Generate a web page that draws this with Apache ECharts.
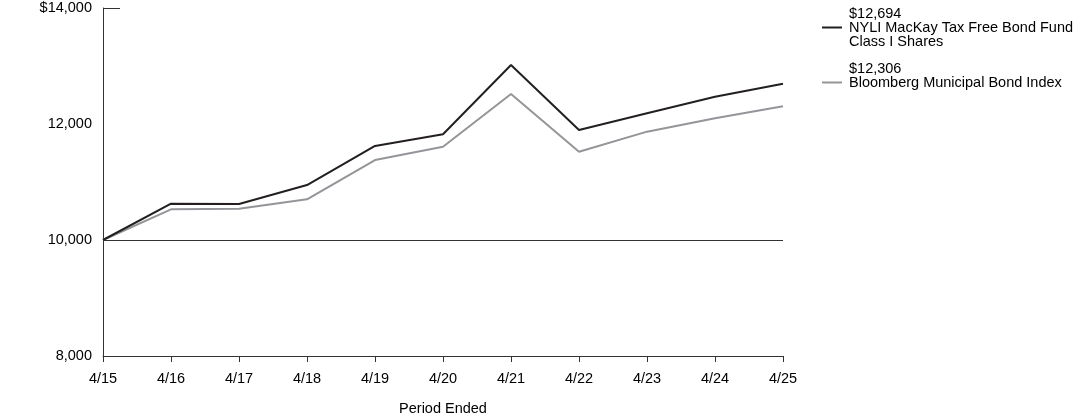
<!DOCTYPE html>
<html>
<head>
<meta charset="utf-8">
<script src="https://cdn.jsdelivr.net/npm/echarts@6/dist/echarts.min.js"></script>
<style>
html,body{margin:0;padding:0;background:#fff;overflow:hidden;}
#c{width:1092px;height:417px;}
</style>
</head>
<body>
<div id="c"></div>
<script>
const categories = ['4/15','4/16','4/17','4/18','4/19','4/20','4/21','4/22','4/23','4/24','4/25'];
const fundName = 'NYLI MacKay Tax Free Bond Fund\nClass I Shares';
const indexName = 'Bloomberg Municipal Bond Index';
const fundValues = [10000, 10626, 10620, 10948, 11621, 11822, 13017, 11897, 12184, 12471, 12694];
const indexValues = [10000, 10529, 10540, 10701, 11379, 11609, 12517, 11523, 11868, 12098, 12306];
const fundEnd = '$12,694';
const indexEnd = '$12,306';
const yMin = 8000, yMax = 14000, yStep = 2000;

const FONT = 'Liberation Sans, Arial, sans-serif';
const FS = 14.5;
const fmt = v => (v === yMax ? '$' : '') + v.toLocaleString('en-US');

const chart = echarts.init(document.getElementById('c'));
chart.setOption({
  animation: false,
  textStyle: { fontFamily: FONT, color: '#000' },
  grid: { left: 103, right: 309, top: 8, bottom: 61, containLabel: false, outerBoundsMode: 'none' },
  legend: {
    orient: 'vertical',
    left: 822,
    top: 6,
    padding: 0,
    itemGap: 12,
    itemWidth: 20,
    itemHeight: 2,
    icon: 'rect',
    selectedMode: false,
    data: [fundName, indexName],
    formatter: name => name === fundName
      ? fundEnd + '\n' + fundName
      : indexEnd + '\n' + indexName + '\n ',
    textStyle: { fontFamily: FONT, fontSize: FS, color: '#000', lineHeight: 14, padding: [0, 0, 0, 2] }
  },
  xAxis: {
    type: 'category',
    data: categories,
    boundaryGap: false,
    name: 'Period Ended',
    nameLocation: 'middle',
    nameGap: 45,
    nameTextStyle: { fontFamily: FONT, fontSize: FS, color: '#000' },
    axisLine: { lineStyle: { color: '#333', width: 1 } },
    axisTick: { show: true, alignWithLabel: true, length: 6, lineStyle: { color: '#333' } },
    axisLabel: { fontFamily: FONT, fontSize: FS, color: '#000', margin: 15 }
  },
  yAxis: [{
    type: 'value',
    min: yMin,
    max: yMax,
    interval: yStep,
    axisLine: { show: true, lineStyle: { color: '#333', width: 1 } },
    axisTick: { show: false },
    splitLine: { show: false },
    axisLabel: { fontFamily: FONT, fontSize: FS, color: '#000', margin: 11, formatter: fmt }
  }, {
    type: 'value',
    position: 'left',
    min: yMin,
    max: yMax,
    interval: yMax - yMin,
    axisLine: { show: false },
    axisTick: { show: true, inside: true, length: 17, lineStyle: { color: '#333', width: 1 } },
    splitLine: { show: false },
    axisLabel: { show: false }
  }],
  series: [{
    name: fundName,
    type: 'line',
    data: fundValues,
    symbol: 'none',
    z: 3,
    lineStyle: { color: '#231f20', width: 2 },
    itemStyle: { color: '#231f20' },
    markLine: {
      silent: true,
      symbol: 'none',
      label: { show: false },
      lineStyle: { color: '#333', width: 1, type: 'solid' },
      data: [{ yAxis: 10000 }]
    }
  }, {
    name: indexName,
    type: 'line',
    data: indexValues,
    symbol: 'none',
    z: 2,
    lineStyle: { color: '#939598', width: 2 },
    itemStyle: { color: '#939598' }
  }]
});
</script>
</body>
</html>
